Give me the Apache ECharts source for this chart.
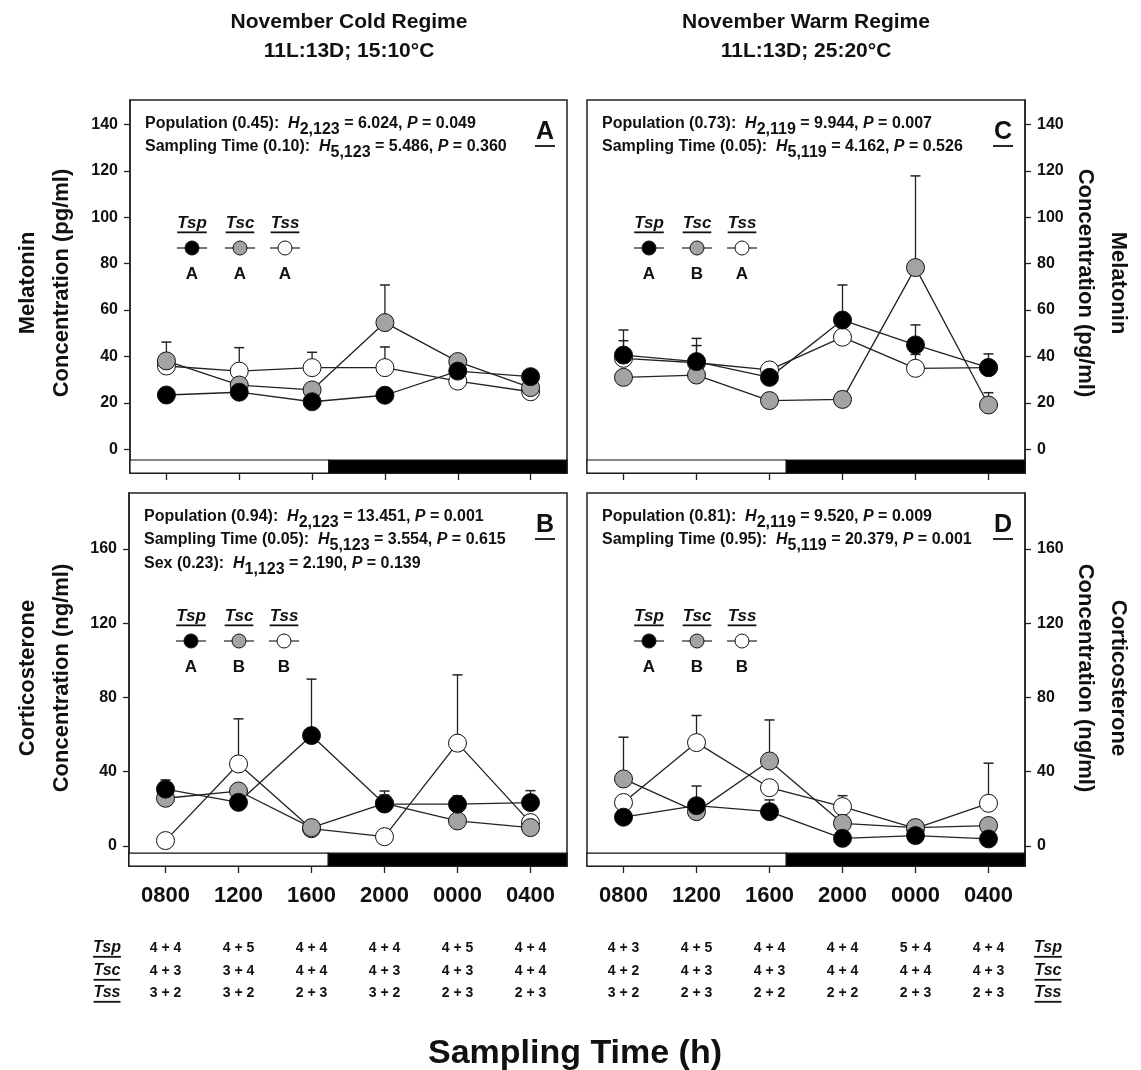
<!DOCTYPE html>
<html>
<head>
<meta charset="utf-8">
<script src="https://cdn.jsdelivr.net/npm/echarts@6.0.0/dist/echarts.min.js"></script>
<style>
  html, body { margin: 0; padding: 0; background: #fff; }
  #chart { width: 1141px; height: 1070px; }
</style>
</head>
<body>
<div id="chart"></div>
<script>
// 采样时间与组别
var times = ['0800', '1200', '1600', '2000', '0000', '0400'];
var groups = ['Tsp', 'Tsc', 'Tss'];

// A: melatonin, cold regime (mean, upper SE)
var melColdTsp = [23.4, 24.6, 20.5, 23.3, 33.7, 31.3];
var melColdTsc = [38.1, 27.7, 25.6, 54.6, 37.8, 26.6];
var melColdTss = [35.9, 33.7, 35.2, 35.2, 29.4, 24.8];
var melColdTspSe = [1.5, 2, 1.5, 1.5, 3, 2];
var melColdTscSe = [8.1, 2.5, 2.5, 16.2, 3, 2];
var melColdTssSe = [3, 10.1, 6.6, 8.9, 2, 1.5];

// C: melatonin, warm regime
var melWarmTsp = [40.6, 37.8, 31.0, 55.7, 45.0, 35.2];
var melWarmTsc = [31.0, 32.0, 21.0, 21.5, 78.3, 19.1];
var melWarmTss = [39.2, 37.3, 34.2, 48.3, 34.9, 35.2];
var melWarmTspSe = [10.8, 10.0, 2, 15.1, 8.6, 5.9];
var melWarmTscSe = [2, 2, 2, 3.3, 39.5, 5.3];
var melWarmTssSe = [7.6, 7.4, 2.8, 2, 6.0, 2];

// B: corticosterone, cold regime
var cortColdTsp = [30.6, 23.5, 59.5, 22.6, 22.5, 23.4];
var cortColdTsc = [25.7, 29.6, 9.9, 23.0, 13.5, 9.9];
var cortColdTss = [2.9, 44.2, 9.3, 5.0, 55.4, 12.6];
var cortColdTspSe = [5.0, 2, 30.4, 4.8, 4.5, 6.4];
var cortColdTscSe = [2, 2, 2, 6.6, 2, 2];
var cortColdTssSe = [2, 24.3, 2, 2, 36.8, 2];

// D: corticosterone, warm regime
var cortWarmTsp = [15.5, 21.7, 18.5, 4.1, 5.6, 3.8];
var cortWarmTsc = [36.1, 18.5, 45.8, 12.2, 9.9, 11.0];
var cortWarmTss = [23.4, 55.7, 31.4, 21.2, 9.5, 23.0];
var cortWarmTspSe = [2, 10.6, 6.3, 1.5, 1.5, 1.5];
var cortWarmTscSe = [22.5, 2, 22.1, 2, 1.5, 2];
var cortWarmTssSe = [2, 14.6, 2, 5.9, 1.5, 21.6];

// 坐标轴刻度
var melTicks = [0, 20, 40, 60, 80, 100, 120, 140];
var cortTicks = [0, 40, 80, 120, 160];
var lightsOff = 2.23;

// 样本量 (male + female)
var nColdTsp = ['4 + 4', '4 + 5', '4 + 4', '4 + 4', '4 + 5', '4 + 4'];
var nColdTsc = ['4 + 3', '3 + 4', '4 + 4', '4 + 3', '4 + 3', '4 + 4'];
var nColdTss = ['3 + 2', '3 + 2', '2 + 3', '3 + 2', '2 + 3', '2 + 3'];
var nWarmTsp = ['4 + 3', '4 + 5', '4 + 4', '4 + 4', '5 + 4', '4 + 4'];
var nWarmTsc = ['4 + 2', '4 + 3', '4 + 3', '4 + 4', '4 + 4', '4 + 3'];
var nWarmTss = ['3 + 2', '2 + 3', '2 + 2', '2 + 2', '2 + 3', '2 + 3'];

// 统计结果
var statsA = [['Population (0.45)', '2,123', '6.024', '0.049'], ['Sampling Time (0.10)', '5,123', '5.486', '0.360']];
var statsC = [['Population (0.73)', '2,119', '9.944', '0.007'], ['Sampling Time (0.05)', '5,119', '4.162', '0.526']];
var statsB = [['Population (0.94)', '2,123', '13.451', '0.001'], ['Sampling Time (0.05)', '5,123', '3.554', '0.615'], ['Sex (0.23)', '1,123', '2.190', '0.139']];
var statsD = [['Population (0.81)', '2,119', '9.520', '0.009'], ['Sampling Time (0.95)', '5,119', '20.379', '0.001']];
var lettersA = ['A', 'A', 'A'];
var lettersC = ['A', 'B', 'A'];
var lettersB = ['A', 'B', 'B'];
var lettersD = ['A', 'B', 'B'];

var FONT = '"Liberation Sans", Arial, sans-serif';
var ink = '#111';
var fills = { Tsp: '#000', Tsc: '#a3a3a3', Tss: '#fff' };

var panels = [
    { key: 'A', box: [130, 100, 437, 373], side: 'left', min: -10.2, max: 150.5, barTop: -4.6, ticks: melTicks, showX: false,
      means: { Tsp: melColdTsp, Tsc: melColdTsc, Tss: melColdTss }, se: { Tsp: melColdTspSe, Tsc: melColdTscSe, Tss: melColdTssSe },
      letters: lettersA, stats: statsA },
    { key: 'C', box: [587, 100, 438, 373], side: 'right', min: -10.2, max: 150.5, barTop: -4.6, ticks: melTicks, showX: false,
      means: { Tsp: melWarmTsp, Tsc: melWarmTsc, Tss: melWarmTss }, se: { Tsp: melWarmTspSe, Tsc: melWarmTscSe, Tss: melWarmTssSe },
      letters: lettersC, stats: statsC },
    { key: 'B', box: [129, 493, 438, 373], side: 'left', min: -10.8, max: 190.2, barTop: -3.9, ticks: cortTicks, showX: true,
      means: { Tsp: cortColdTsp, Tsc: cortColdTsc, Tss: cortColdTss }, se: { Tsp: cortColdTspSe, Tsc: cortColdTscSe, Tss: cortColdTssSe },
      letters: lettersB, stats: statsB },
    { key: 'D', box: [587, 493, 438, 373], side: 'right', min: -10.8, max: 190.2, barTop: -3.9, ticks: cortTicks, showX: true,
      means: { Tsp: cortWarmTsp, Tsc: cortWarmTsc, Tss: cortWarmTss }, se: { Tsp: cortWarmTspSe, Tsc: cortWarmTscSe, Tss: cortWarmTssSe },
      letters: lettersD, stats: statsD }
];

var ctx = document.createElement('canvas').getContext('2d');
function textWidth(str, font) {
    ctx.font = font;
    return ctx.measureText(str).width;
}

function txt(x, y, text, size, opts) {
    opts = opts || {};
    return {
        type: 'text', x: x, y: y, rotation: opts.rotation || 0, silent: true,
        style: {
            text: text, fill: ink,
            font: (opts.italic ? 'italic ' : '') + 'bold ' + size + 'px ' + FONT,
            align: opts.align || 'center', verticalAlign: 'middle',
            textAlign: opts.align || 'center', textVerticalAlign: 'middle'
        }
    };
}

function underline(cx, y, w) {
    return { type: 'line', silent: true, shape: { x1: cx - w / 2, y1: y, x2: cx + w / 2, y2: y }, style: { stroke: ink, lineWidth: 1.8 } };
}

// 带下划线的组别名称
function groupLabel(cx, cy, name, size) {
    var w = textWidth(name, 'italic bold ' + size + 'px ' + FONT);
    return [txt(cx, cy, name, size, { italic: true }), underline(cx, cy + size * 0.55, w)];
}

var statRich = {
    n: { fontFamily: FONT, fontWeight: 'bold', fontSize: 16, fill: ink, lineHeight: 19, verticalAlign: 'top' },
    i: { fontFamily: FONT, fontWeight: 'bold', fontStyle: 'italic', fontSize: 16, fill: ink, lineHeight: 19, verticalAlign: 'top' },
    s: { fontFamily: FONT, fontWeight: 'bold', fontSize: 16, fill: ink, lineHeight: 19, verticalAlign: 'top', padding: [6, 0, 0, 0] }
};
function statText(s) {
    return '{n|' + s[0] + ':  }{i|H}{s|' + s[1] + '}{n| = ' + s[2] + ', }{i|P}{n| = ' + s[3] + '}';
}

var grids = [], xAxes = [], yAxes = [], series = [], graphics = [];
var idx = [0, 1, 2, 3, 4, 5];

panels.forEach(function (p, k) {
    var b = p.box;
    grids.push({ left: b[0], top: b[1], width: b[2], height: b[3], show: true, borderColor: '#222', borderWidth: 1.5, backgroundColor: 'rgba(0,0,0,0)' });
    xAxes.push({
        type: 'value', gridIndex: k, min: -0.5, max: 5.5,
        axisLine: { show: true, onZero: false, lineStyle: { color: '#222', width: 1.5 } },
        axisTick: { show: true, length: 7, customValues: idx, lineStyle: { color: '#222', width: 1.3 } },
        axisLabel: {
            show: p.showX, customValues: idx, margin: 19,
            formatter: function (v) { return times[Math.round(v)]; },
            fontFamily: FONT, fontWeight: 'bold', fontSize: 22, color: ink
        },
        splitLine: { show: false }
    });
    yAxes.push({
        type: 'value', gridIndex: k, position: p.side, min: p.min, max: p.max,
        axisLine: { show: true, onZero: false, lineStyle: { color: '#222', width: 1.5 } },
        axisTick: { show: true, length: 6, customValues: p.ticks, lineStyle: { color: '#222', width: 1.3 } },
        axisLabel: { customValues: p.ticks, margin: 12, fontFamily: FONT, fontWeight: 'bold', fontSize: 16, color: ink },
        splitLine: { show: false }
    });

    // 误差线
    groups.forEach(function (g) {
        var m = p.means[g], se = p.se[g];
        series.push({
            type: 'custom', xAxisIndex: k, yAxisIndex: k, z: 1, silent: true, animation: false,
            data: m.map(function (v, i) { return [i, v, v + se[i]]; }),
            renderItem: function (params, api) {
                var p0 = api.coord([api.value(0), api.value(1)]);
                var p1 = api.coord([api.value(0), api.value(2)]);
                return {
                    type: 'group', children: [
                        { type: 'line', shape: { x1: p0[0], y1: p0[1], x2: p1[0], y2: p1[1] }, style: { stroke: '#222', lineWidth: 1.3 } },
                        { type: 'line', shape: { x1: p1[0] - 5, y1: p1[1], x2: p1[0] + 5, y2: p1[1] }, style: { stroke: '#222', lineWidth: 1.5 } }
                    ]
                };
            }
        });
    });

    // 折线 (Tss 在下, Tsp 在上)
    ['Tss', 'Tsc', 'Tsp'].forEach(function (g, j) {
        var s = {
            type: 'line', name: g, xAxisIndex: k, yAxisIndex: k, z: 3, silent: true, animation: false,
            data: p.means[g].map(function (v, i) { return [i, v]; }),
            symbol: 'circle', symbolSize: 18, showAllSymbol: true,
            itemStyle: { color: fills[g], borderColor: '#111', borderWidth: 1 },
            lineStyle: { color: '#222', width: 1.3 },
            emphasis: { disabled: true }
        };
        if (j === 0) {
            s.markArea = {
                silent: true, label: { show: false },
                data: [
                    [{ xAxis: -0.5, yAxis: p.barTop, itemStyle: { color: '#fff', borderColor: '#111', borderWidth: 1.2 } }, { xAxis: lightsOff, yAxis: p.min }],
                    [{ xAxis: lightsOff, yAxis: p.barTop, itemStyle: { color: '#000', borderColor: '#111', borderWidth: 1.2 } }, { xAxis: 5.5, yAxis: p.min }]
                ]
            };
        }
        series.push(s);
    });

    // 统计文字
    p.stats.forEach(function (s, r) {
        graphics.push({
            type: 'text', x: b[0] + 15, y: b[1] + 25 + r * 23.3 - 9.5, silent: true,
            style: { text: statText(s), rich: statRich, align: 'left', verticalAlign: 'top', textAlign: 'left', textVerticalAlign: 'top' }
        });
    });

    // 面板字母
    var lx = b[0] + b[2] - 22, ly = b[1] + 32;
    graphics.push(txt(lx, ly, p.key, 25));
    graphics.push(underline(lx, ly + 14, textWidth(p.key, 'bold 25px ' + FONT) + 2));

    // 图例
    var offs = [62, 110, 155];
    groups.forEach(function (g, j) {
        var cx = b[0] + offs[j], cy = b[1] + 123;
        groupLabel(cx, cy, g, 17).forEach(function (e) { graphics.push(e); });
        graphics.push({ type: 'line', silent: true, shape: { x1: cx - 15, y1: cy + 25, x2: cx + 15, y2: cy + 25 }, style: { stroke: '#222', lineWidth: 1.2 } });
        graphics.push({ type: 'circle', silent: true, shape: { cx: cx, cy: cy + 25, r: 7 }, style: { fill: fills[g], stroke: '#111', lineWidth: 1 } });
        graphics.push(txt(cx, cy + 51, p.letters[j], 17));
    });
});

// 标题
graphics.push(txt(349, 22, 'November Cold Regime', 21));
graphics.push(txt(349, 51, '11L:13D; 15:10°C', 21));
graphics.push(txt(806, 22, 'November Warm Regime', 21));
graphics.push(txt(806, 51, '11L:13D; 25:20°C', 21));

// 纵轴名称
graphics.push(txt(28, 283, 'Melatonin', 22, { rotation: Math.PI / 2 }));
graphics.push(txt(62, 283, 'Concentration (pg/ml)', 22, { rotation: Math.PI / 2 }));
graphics.push(txt(28, 678, 'Corticosterone', 22, { rotation: Math.PI / 2 }));
graphics.push(txt(62, 678, 'Concentration (ng/ml)', 22, { rotation: Math.PI / 2 }));
graphics.push(txt(1118, 283, 'Melatonin', 22, { rotation: -Math.PI / 2 }));
graphics.push(txt(1085, 283, 'Concentration (pg/ml)', 22, { rotation: -Math.PI / 2 }));
graphics.push(txt(1118, 678, 'Corticosterone', 22, { rotation: -Math.PI / 2 }));
graphics.push(txt(1085, 678, 'Concentration (ng/ml)', 22, { rotation: -Math.PI / 2 }));

// 样本量表
var rowsY = [948, 971, 993];
var coldRows = [nColdTsp, nColdTsc, nColdTss];
var warmRows = [nWarmTsp, nWarmTsc, nWarmTss];
[[panels[2].box, coldRows], [panels[3].box, warmRows]].forEach(function (pair) {
    var b = pair[0];
    pair[1].forEach(function (row, r) {
        row.forEach(function (t, i) {
            graphics.push(txt(b[0] + (i + 0.5) * b[2] / 6, rowsY[r], t, 14));
        });
    });
});
groups.forEach(function (g, r) {
    groupLabel(107, rowsY[r], g, 16).forEach(function (e) { graphics.push(e); });
    groupLabel(1048, rowsY[r], g, 16).forEach(function (e) { graphics.push(e); });
});

graphics.push(txt(575, 1054, 'Sampling Time (h)', 34));

var chart = echarts.init(document.getElementById('chart'));
chart.setOption({
    backgroundColor: '#fff',
    animation: false,
    grid: grids,
    xAxis: xAxes,
    yAxis: yAxes,
    series: series,
    graphic: { elements: graphics }
});
</script>
</body>
</html>
